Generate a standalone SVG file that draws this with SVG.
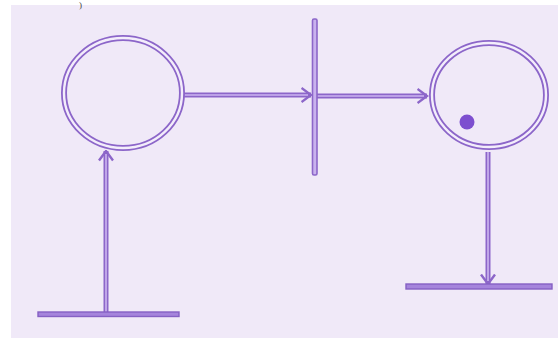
<svg xmlns="http://www.w3.org/2000/svg" width="558" height="338" viewBox="0 0 558 338">
  <defs>
    <style>
      .bg { fill: #f0e9f8; }
      .edge { fill: none; stroke: #8c66c9; stroke-width: 5; stroke-linecap: butt; }
      .core { fill: none; stroke: #cdb6f0; stroke-width: 1.6; }
      .ring { fill: none; stroke: #8c66c9; stroke-width: 6; }
      .ringcore { fill: none; stroke: #f3edfb; stroke-width: 2.4; }
      .tbar { fill: #c9b2ee; stroke: #8c66c9; stroke-width: 1.6; }
      .hbar { fill: #a584dc; stroke: #8560c4; stroke-width: 1.4; }
      .tok { fill: #7d4fcf; }
      .glyph { font-family: "Liberation Serif", serif; font-size: 9px; fill: #444; }
    </style>
    <marker id="arr" viewBox="0 0 12 16" refX="10.5" refY="8" markerWidth="12" markerHeight="16" markerUnits="userSpaceOnUse" orient="auto">
      <path d="M1,1 L10.5,8 L1,15" fill="none" stroke="#8c66c9" stroke-width="2.4" stroke-linejoin="miter"/>
    </marker>
  </defs>
  <rect x="0" y="0" width="558" height="338" fill="#ffffff"/>
  <rect class="bg" x="11" y="5" width="547" height="333"/>
  <text class="glyph" x="79" y="8">)</text>

  <g id="connectors">
    <g id="a1">
      <line class="edge" x1="184" y1="95" x2="311" y2="95" marker-end="url(#arr)"/>
      <line class="core" x1="184" y1="95" x2="308" y2="95"/>
    </g>
    <g id="a2">
      <line class="edge" x1="317" y1="96" x2="427" y2="96" marker-end="url(#arr)"/>
      <line class="core" x1="317" y1="96" x2="424" y2="96"/>
    </g>
    <g id="a3">
      <line class="edge" x1="106" y1="313" x2="106" y2="151" marker-end="url(#arr)"/>
      <line class="core" x1="106" y1="313" x2="106" y2="154"/>
    </g>
    <g id="a4">
      <line class="edge" x1="488" y1="152" x2="488" y2="284" marker-end="url(#arr)"/>
      <line class="core" x1="488" y1="152" x2="488" y2="281"/>
    </g>
  </g>

  <g id="place1">
    <ellipse class="ring" cx="123" cy="93" rx="59" ry="55"/>
    <ellipse class="ringcore" cx="123" cy="93" rx="59" ry="55"/>
  </g>

  <g id="transition1">
    <rect class="tbar" x="312.5" y="19" width="4.5" height="156" rx="1.5"/>
  </g>

  <g id="place2">
    <ellipse class="ring" cx="489" cy="95" rx="57" ry="52"/>
    <ellipse class="ringcore" cx="489" cy="95" rx="57" ry="52"/>
    <circle class="tok" cx="467" cy="122" r="7.5"/>
  </g>

  <g id="transition2">
    <rect class="hbar" x="38" y="312" width="141" height="4.5"/>
  </g>

  <g id="transition3">
    <rect class="hbar" x="406" y="284" width="146" height="5"/>
  </g>
</svg>
